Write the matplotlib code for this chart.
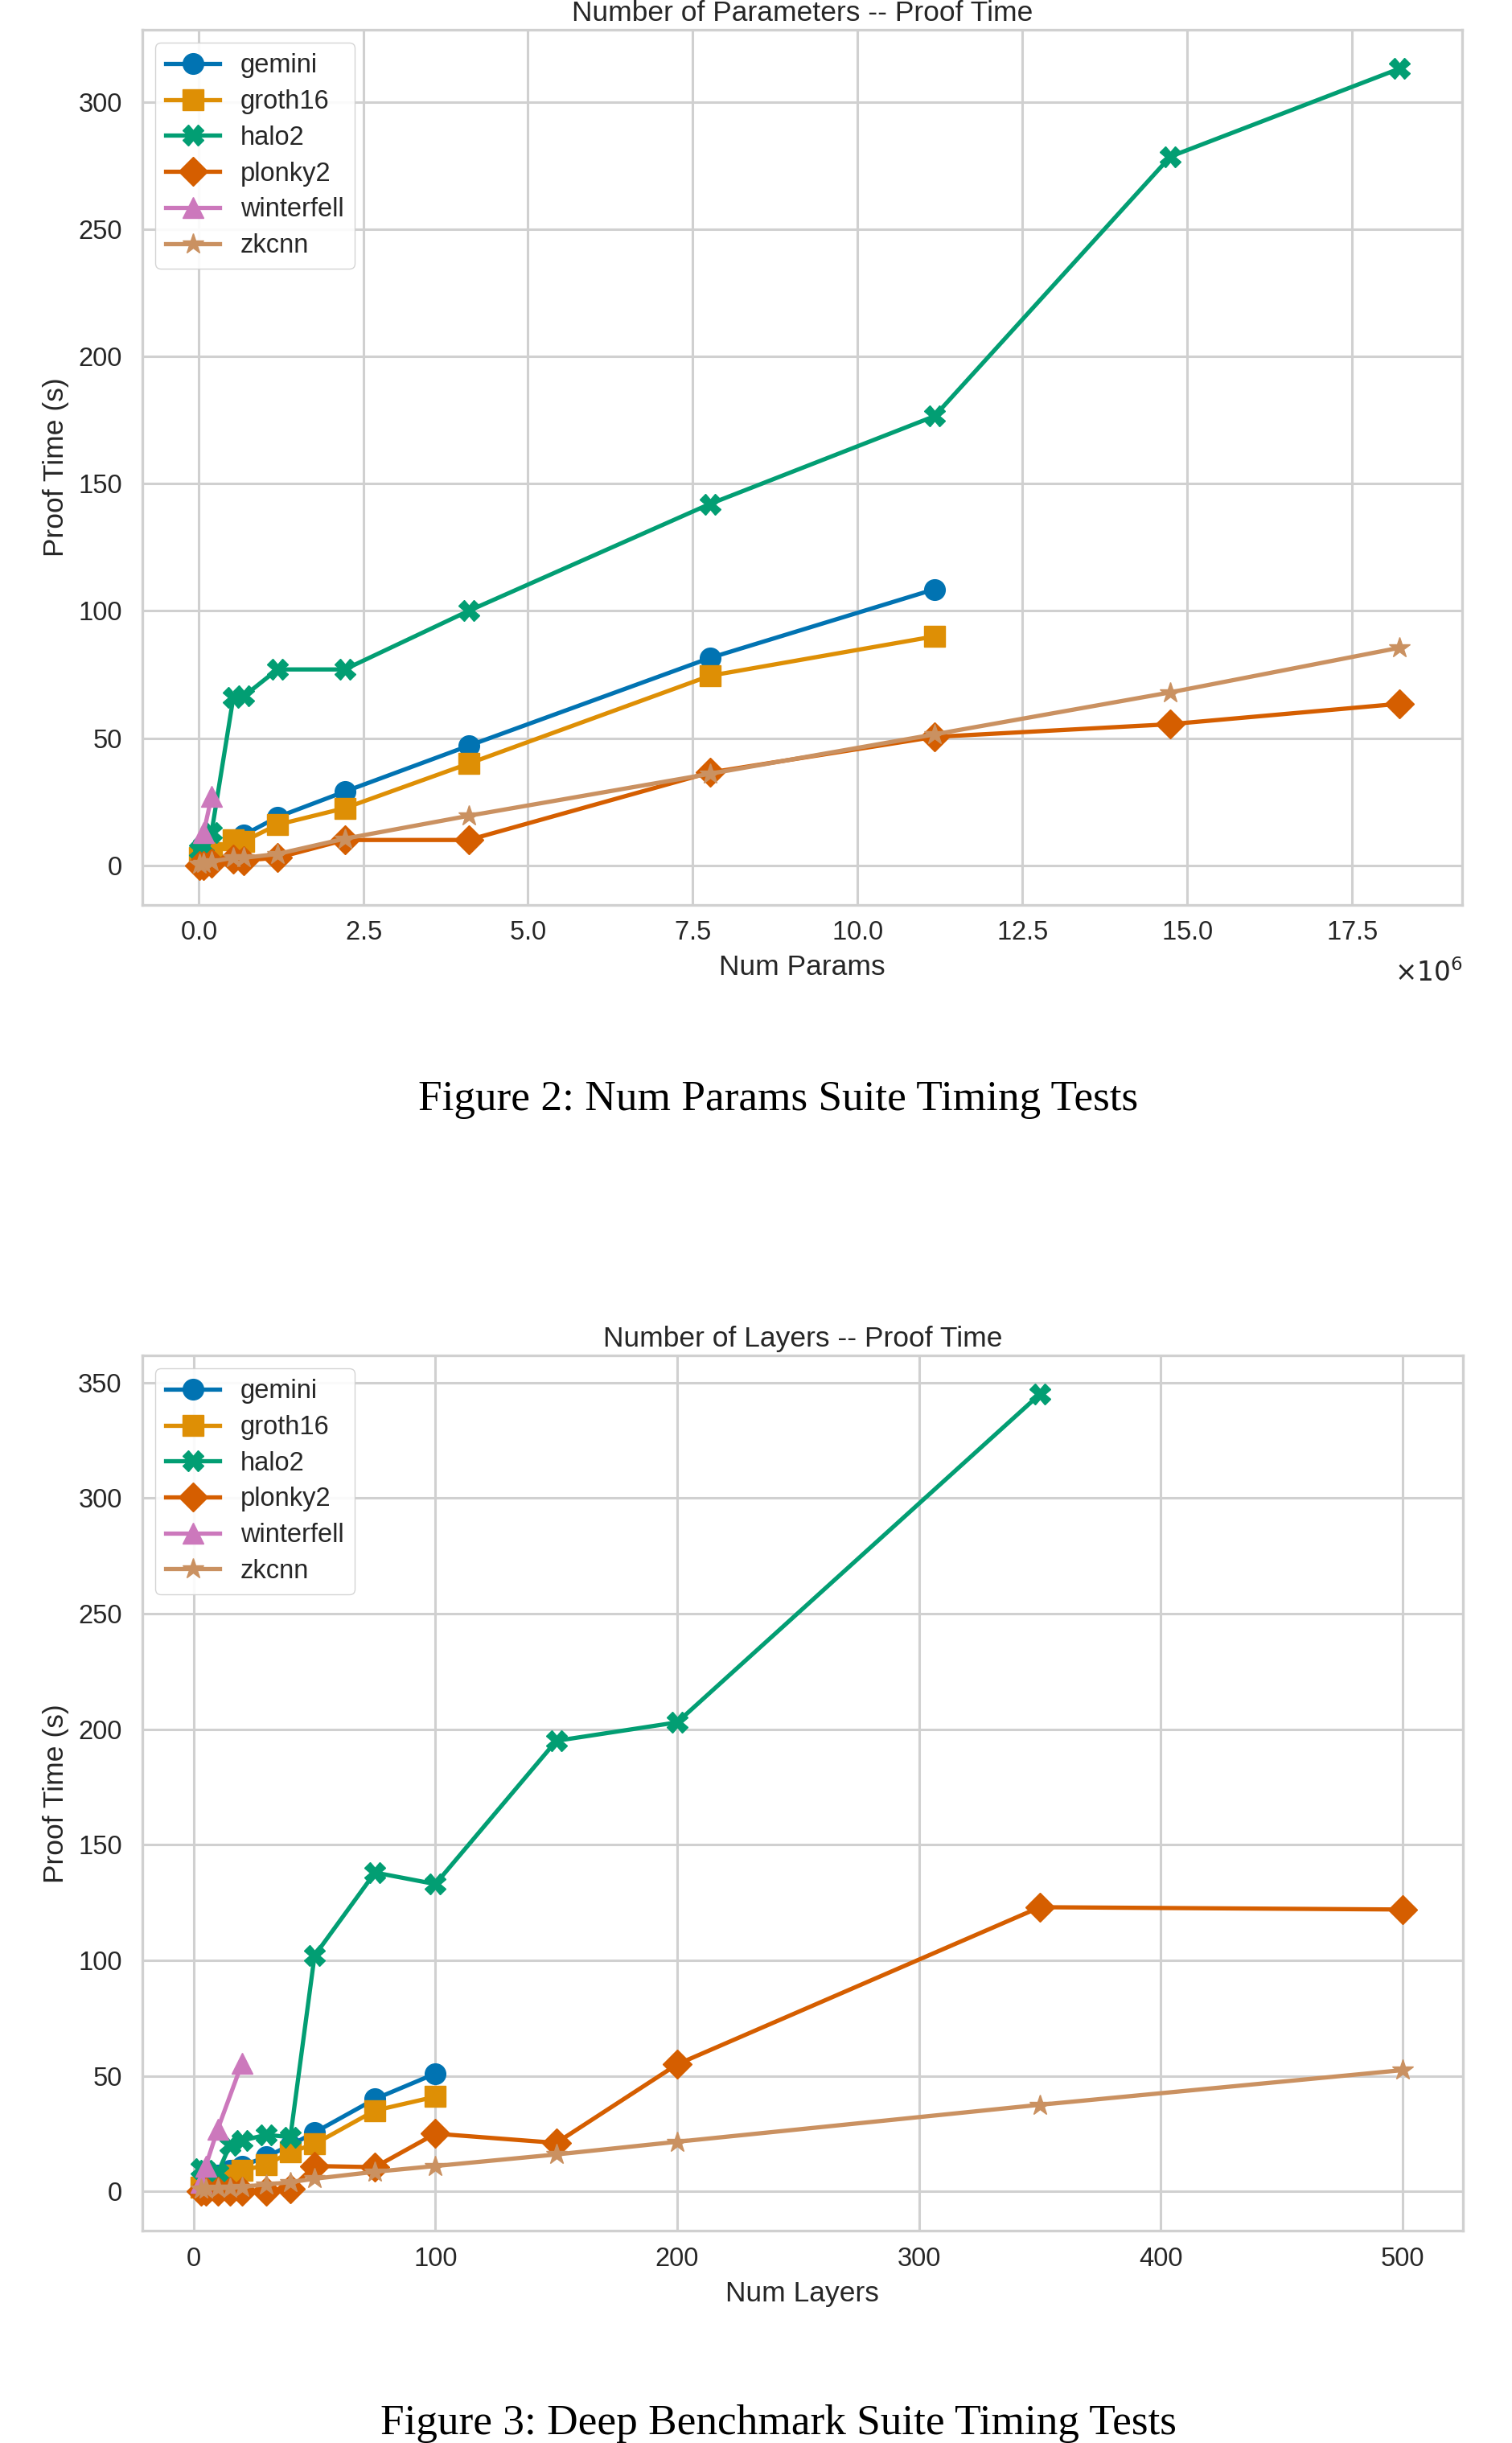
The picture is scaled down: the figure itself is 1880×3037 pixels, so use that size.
import matplotlib
matplotlib.use("Agg")
from matplotlib import pyplot as plt

plt.rcParams['font.family'] = ['Liberation Sans', 'DejaVu Sans']
plt.rcParams['text.color'] = '#262626'
plt.rcParams['axes.labelcolor'] = '#262626'
plt.rcParams['xtick.color'] = '#262626'
plt.rcParams['ytick.color'] = '#262626'

names = ["gemini", "groth16", "halo2", "plonky2", "winterfell", "zkcnn"]
colors = ["#0173b2", "#de8f05", "#029e73", "#d55e00", "#cc78bc", "#ca9161"]
markers = ["o", "s", "X", "D", "^", "*"]

# Figure 2: number of parameters (x in units of 1e6)
param_x = [0.02, 0.08, 0.2, 0.53, 0.69, 1.2, 2.22, 4.1, 7.76, 11.17, 14.75, 18.22]
param_gemini = [4, 5, 6, 10, 12, 19, 29, 47, 81.5, 108.5]
param_groth16 = [3, 4, 5, 10, 9.5, 16, 22.5, 40, 74.5, 90]
param_halo2 = [6, 8, 13, 66, 66.5, 77, 77, 100, 142, 176.5, 278.5, 313]
param_plonky2 = [0, 0, 1, 2.5, 2, 3, 10, 10, 36.5, 50.5, 55.5, 63.5]
param_winterfell_x = [0.08, 0.2]
param_winterfell = [13, 27]
param_zkcnn = [0.5, 1, 1.5, 3, 3, 4.5, 10.5, 19.5, 36, 51.5, 68, 85.5]

# Figure 3: number of layers
layer_x = [3, 5, 10, 15, 20, 30, 40, 50, 75, 100, 150, 200, 350, 500]
layer_gemini = [3, 5, 7, 9, 11, 15, 20, 25.5, 40, 51]
layer_groth16 = [2, 4, 6, 7, 9, 11.5, 17, 20.5, 35, 41]
layer_halo2 = [10, 9, 8, 20, 22, 24.5, 23.5, 102, 138, 133, 195, 203, 345]
layer_plonky2 = [0, 0, 0, 0, 0, 0, 1, 11, 10.5, 25, 21, 55, 123, 122]
layer_winterfell_x = [3, 5, 10, 20]
layer_winterfell = [4, 11, 27, 55.5]
layer_zkcnn = [1, 1, 1.5, 1.5, 2, 3, 4, 5.5, 8.5, 11, 16, 21.5, 37.5, 52.5]

param_series = [
    (param_x[:len(param_gemini)], param_gemini),
    (param_x[:len(param_groth16)], param_groth16),
    (param_x, param_halo2),
    (param_x, param_plonky2),
    (param_winterfell_x, param_winterfell),
    (param_x, param_zkcnn),
]
layer_series = [
    (layer_x[:len(layer_gemini)], layer_gemini),
    (layer_x[:len(layer_groth16)], layer_groth16),
    (layer_x[:len(layer_halo2)], layer_halo2),
    (layer_x, layer_plonky2),
    (layer_winterfell_x, layer_winterfell),
    (layer_x, layer_zkcnn),
]


def draw(ax, series, scale, title, xlabel):
    for name, color, marker, (xs, ys) in zip(names, colors, markers, series):
        ms = 19 if marker == "*" else 18.5
        ax.plot([v * scale for v in xs], ys, color=color, marker=marker,
                markersize=ms, linewidth=3.8, label=name, zorder=3)
    ax.set_facecolor("white")
    ax.grid(True, color="#d0d0d0", linewidth=2.2, zorder=0)
    ax.set_axisbelow(True)
    for sp in ax.spines.values():
        sp.set_color("#d0d0d0")
        sp.set_linewidth(2.4)
    ax.tick_params(axis="both", length=0, labelsize=23.5)
    ax.tick_params(axis="x", pad=14)
    ax.tick_params(axis="y", pad=18)
    ax.set_title(title, fontsize=25.5, pad=8)
    ax.set_xlabel(xlabel, fontsize=25.5, labelpad=8)
    ax.set_ylabel("Proof Time (s)", fontsize=25.5, labelpad=8)
    ax.legend(loc="upper left", fontsize=23.5, labelspacing=0.42,
              handlelength=2.05, edgecolor="#d0d0d0", framealpha=0.9)


fig = plt.figure(figsize=(18.8, 30.37), dpi=100)

ax1 = fig.add_axes([0.094, 0.6296, 0.873, 0.3582])
draw(ax1, param_series, 1e6, "Number of Parameters -- Proof Time", "Num Params")
ax1.set_xlim(-0.854e6, 19.176e6)
ax1.set_ylim(-15.5, 328.3)
ax1.ticklabel_format(axis="x", style="sci", scilimits=(6, 6), useMathText=True)
ax1.xaxis.get_offset_text().set_visible(False)
ax1.text(1.0, -0.078, r"$\times10^{6}$", transform=ax1.transAxes,
         ha="right", va="center", fontsize=23.5)

ax2 = fig.add_axes([0.094, 0.0868, 0.8736, 0.3584])
draw(ax2, layer_series, 1, "Number of Layers -- Proof Time", "Num Layers")
ax2.set_xlim(-21.3, 525.0)
ax2.set_ylim(-17.1, 361.8)

fig.text(968 / 1880, 1 - 1367 / 3037, "Figure 2: Num Params Suite Timing Tests",
         ha="center", va="center", fontsize=38.3, family="Liberation Serif", color="black")
fig.text(968 / 1880, 1 - 3013 / 3037, "Figure 3: Deep Benchmark Suite Timing Tests",
         ha="center", va="center", fontsize=38.3, family="Liberation Serif", color="black")

fig.savefig("out.png", dpi=100, facecolor="white")
